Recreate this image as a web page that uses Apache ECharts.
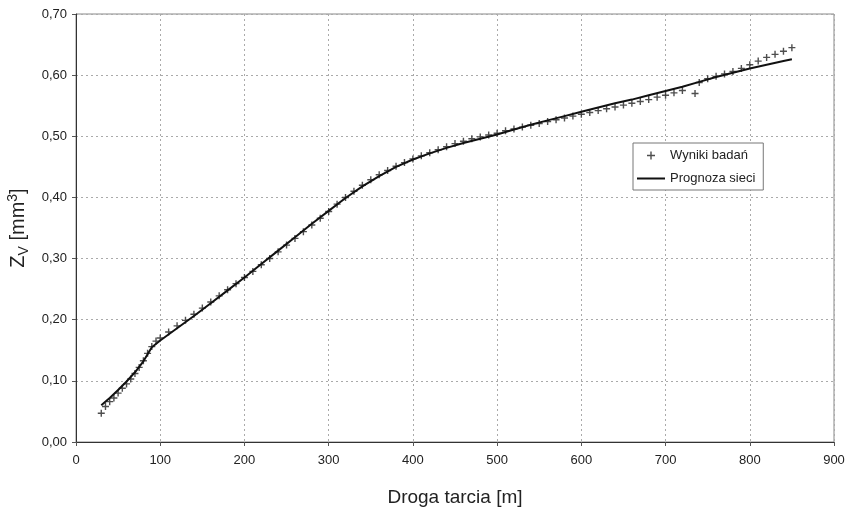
<!DOCTYPE html>
<html><head><meta charset="utf-8">
<script src="https://cdn.jsdelivr.net/npm/echarts@6/dist/echarts.min.js"></script>
<style>html,body{margin:0;padding:0;background:#fff}#c{width:854px;height:512px}</style>
</head><body><div id="c"></div>
<script>
const measX = [30,35,40,45,50,55,60,65,70,75,80,85,90,95,100,110,120,130,140,150,160,170,180,190,200,210,220,230,240,250,260,270,280,290,300,310,320,330,340,350,360,370,380,390,400,410,420,430,440,450,460,470,480,490,500,510,520,530,540,550,560,570,580,590,600,610,620,630,640,650,660,670,680,690,700,710,720,735,740,750,760,770,780,790,800,810,820,830,840,850];
const measY = [0.047,0.058,0.066,0.072,0.080,0.088,0.095,0.103,0.112,0.122,0.133,0.145,0.156,0.165,0.170,0.180,0.190,0.199,0.209,0.219,0.229,0.239,0.249,0.259,0.269,0.279,0.290,0.300,0.311,0.322,0.333,0.344,0.355,0.366,0.377,0.389,0.400,0.410,0.420,0.429,0.437,0.444,0.451,0.457,0.463,0.468,0.473,0.478,0.483,0.488,0.492,0.496,0.499,0.502,0.505,0.509,0.512,0.515,0.518,0.521,0.524,0.527,0.530,0.533,0.536,0.539,0.542,0.545,0.548,0.551,0.554,0.557,0.560,0.564,0.567,0.571,0.575,0.570,0.588,0.594,0.598,0.602,0.606,0.611,0.617,0.623,0.629,0.634,0.639,0.645];
const predX = [30,40,50,60,70,80,90,100,120,140,160,180,200,220,240,260,280,300,320,340,360,380,400,420,440,460,480,500,520,540,560,580,600,620,640,660,680,700,720,740,760,780,800,820,840,850];
const predY = [0.060,0.072,0.085,0.099,0.114,0.132,0.155,0.166,0.186,0.206,0.227,0.248,0.269,0.291,0.313,0.335,0.357,0.378,0.399,0.418,0.435,0.450,0.462,0.472,0.481,0.489,0.496,0.503,0.511,0.519,0.526,0.533,0.540,0.547,0.554,0.560,0.567,0.574,0.581,0.589,0.597,0.604,0.611,0.617,0.623,0.626];
const seriesNames = ['Wyniki badań','Prognoza sieci'];
const xTicks = [0,100,200,300,400,500,600,700,800,900];
const yTicks = [0,0.1,0.2,0.3,0.4,0.5,0.6,0.7];

const chart = echarts.init(document.getElementById('c'), null, {renderer:'canvas'});
const font = 'Liberation Sans, Arial, sans-serif';
const plus = 'path://M-1,-5 L1,-5 L1,-1 L5,-1 L5,1 L1,1 L1,5 L-1,5 L-1,1 L-5,1 L-5,-1 L-1,-1 Z';
const box = 'M0,0 L0.01,0 L0.01,0.01 Z M28,10 L27.99,10 L27.99,9.99 Z ';
const legPlus = 'path://' + box + 'M13.3,1 L14.7,1 L14.7,4.3 L18,4.3 L18,5.7 L14.7,5.7 L14.7,9 L13.3,9 L13.3,5.7 L10,5.7 L10,4.3 L13.3,4.3 Z';
const legLine = 'path://' + box + 'M0,4 L28,4 L28,6 L0,6 Z';
chart.setOption({
  backgroundColor:'#fff',
  animation:false,
  grid:{left:76, right:20, top:14, bottom:70, show:true, borderColor:'#888', borderWidth:1,
        containLabel:false, outerBoundsMode:'none'},
  legend:{
    orient:'vertical', left:633, top:143, padding:[6,8,5,4], itemGap:10,
    borderColor:'#777', borderWidth:1, backgroundColor:'#fff',
    textStyle:{fontFamily:font, fontSize:13, color:'#222'},
    itemWidth:28, itemHeight:10,
    data:[{name:seriesNames[0], icon:legPlus, itemStyle:{color:'#222'}},
          {name:seriesNames[1], icon:legLine, itemStyle:{color:'#111'}}]
  },
  xAxis:{
    type:'value', min:xTicks[0], max:xTicks[xTicks.length-1], interval:100,
    name:'Droga tarcia [m]', nameLocation:'middle', nameGap:46,
    nameTextStyle:{fontFamily:font, fontSize:19, color:'#222'},
    axisLine:{lineStyle:{color:'#333', width:1}},
    axisTick:{show:true, length:4, lineStyle:{color:'#555'}},
    axisLabel:{fontFamily:font, fontSize:13, color:'#222', margin:12},
    splitLine:{show:true, lineStyle:{color:'#aaa', type:[2,3], width:1}}
  },
  yAxis:{
    type:'value', min:0, max:0.7, interval:0.1,
    name:'{a|Z}{b|V}{a| [mm}{c|3}{a|]}', nameLocation:'middle', nameGap:44, nameRotate:90,
    nameTextStyle:{fontFamily:font, fontSize:20, color:'#222',
      rich:{
        a:{fontFamily:font, fontSize:20, color:'#222'},
        b:{fontFamily:font, fontSize:14, color:'#222', verticalAlign:'bottom', padding:[9,0,0,0]},
        c:{fontFamily:font, fontSize:14, color:'#222', verticalAlign:'top', padding:[0,0,11,0]}
      }},
    axisLine:{show:true, lineStyle:{color:'#333', width:1}},
    axisTick:{show:true, length:4, lineStyle:{color:'#555'}},
    axisLabel:{fontFamily:font, fontSize:13, color:'#222', margin:9,
      formatter:v=>v.toFixed(2).replace('.',',')},
    splitLine:{show:true, lineStyle:{color:'#aaa', type:[2,3], width:1}}
  },
  series:[
    {name:seriesNames[0], type:'scatter', symbol:plus, symbolSize:7,
     itemStyle:{color:'#222'},
     data:measX.map((x,i)=>[x,measY[i]]), z:2},
    {name:seriesNames[1], type:'line', showSymbol:false, symbol:'none',
     lineStyle:{color:'#111', width:2}, itemStyle:{color:'#111'},
     data:predX.map((x,i)=>[x,predY[i]]), z:3}
  ]
});
</script></body></html>
